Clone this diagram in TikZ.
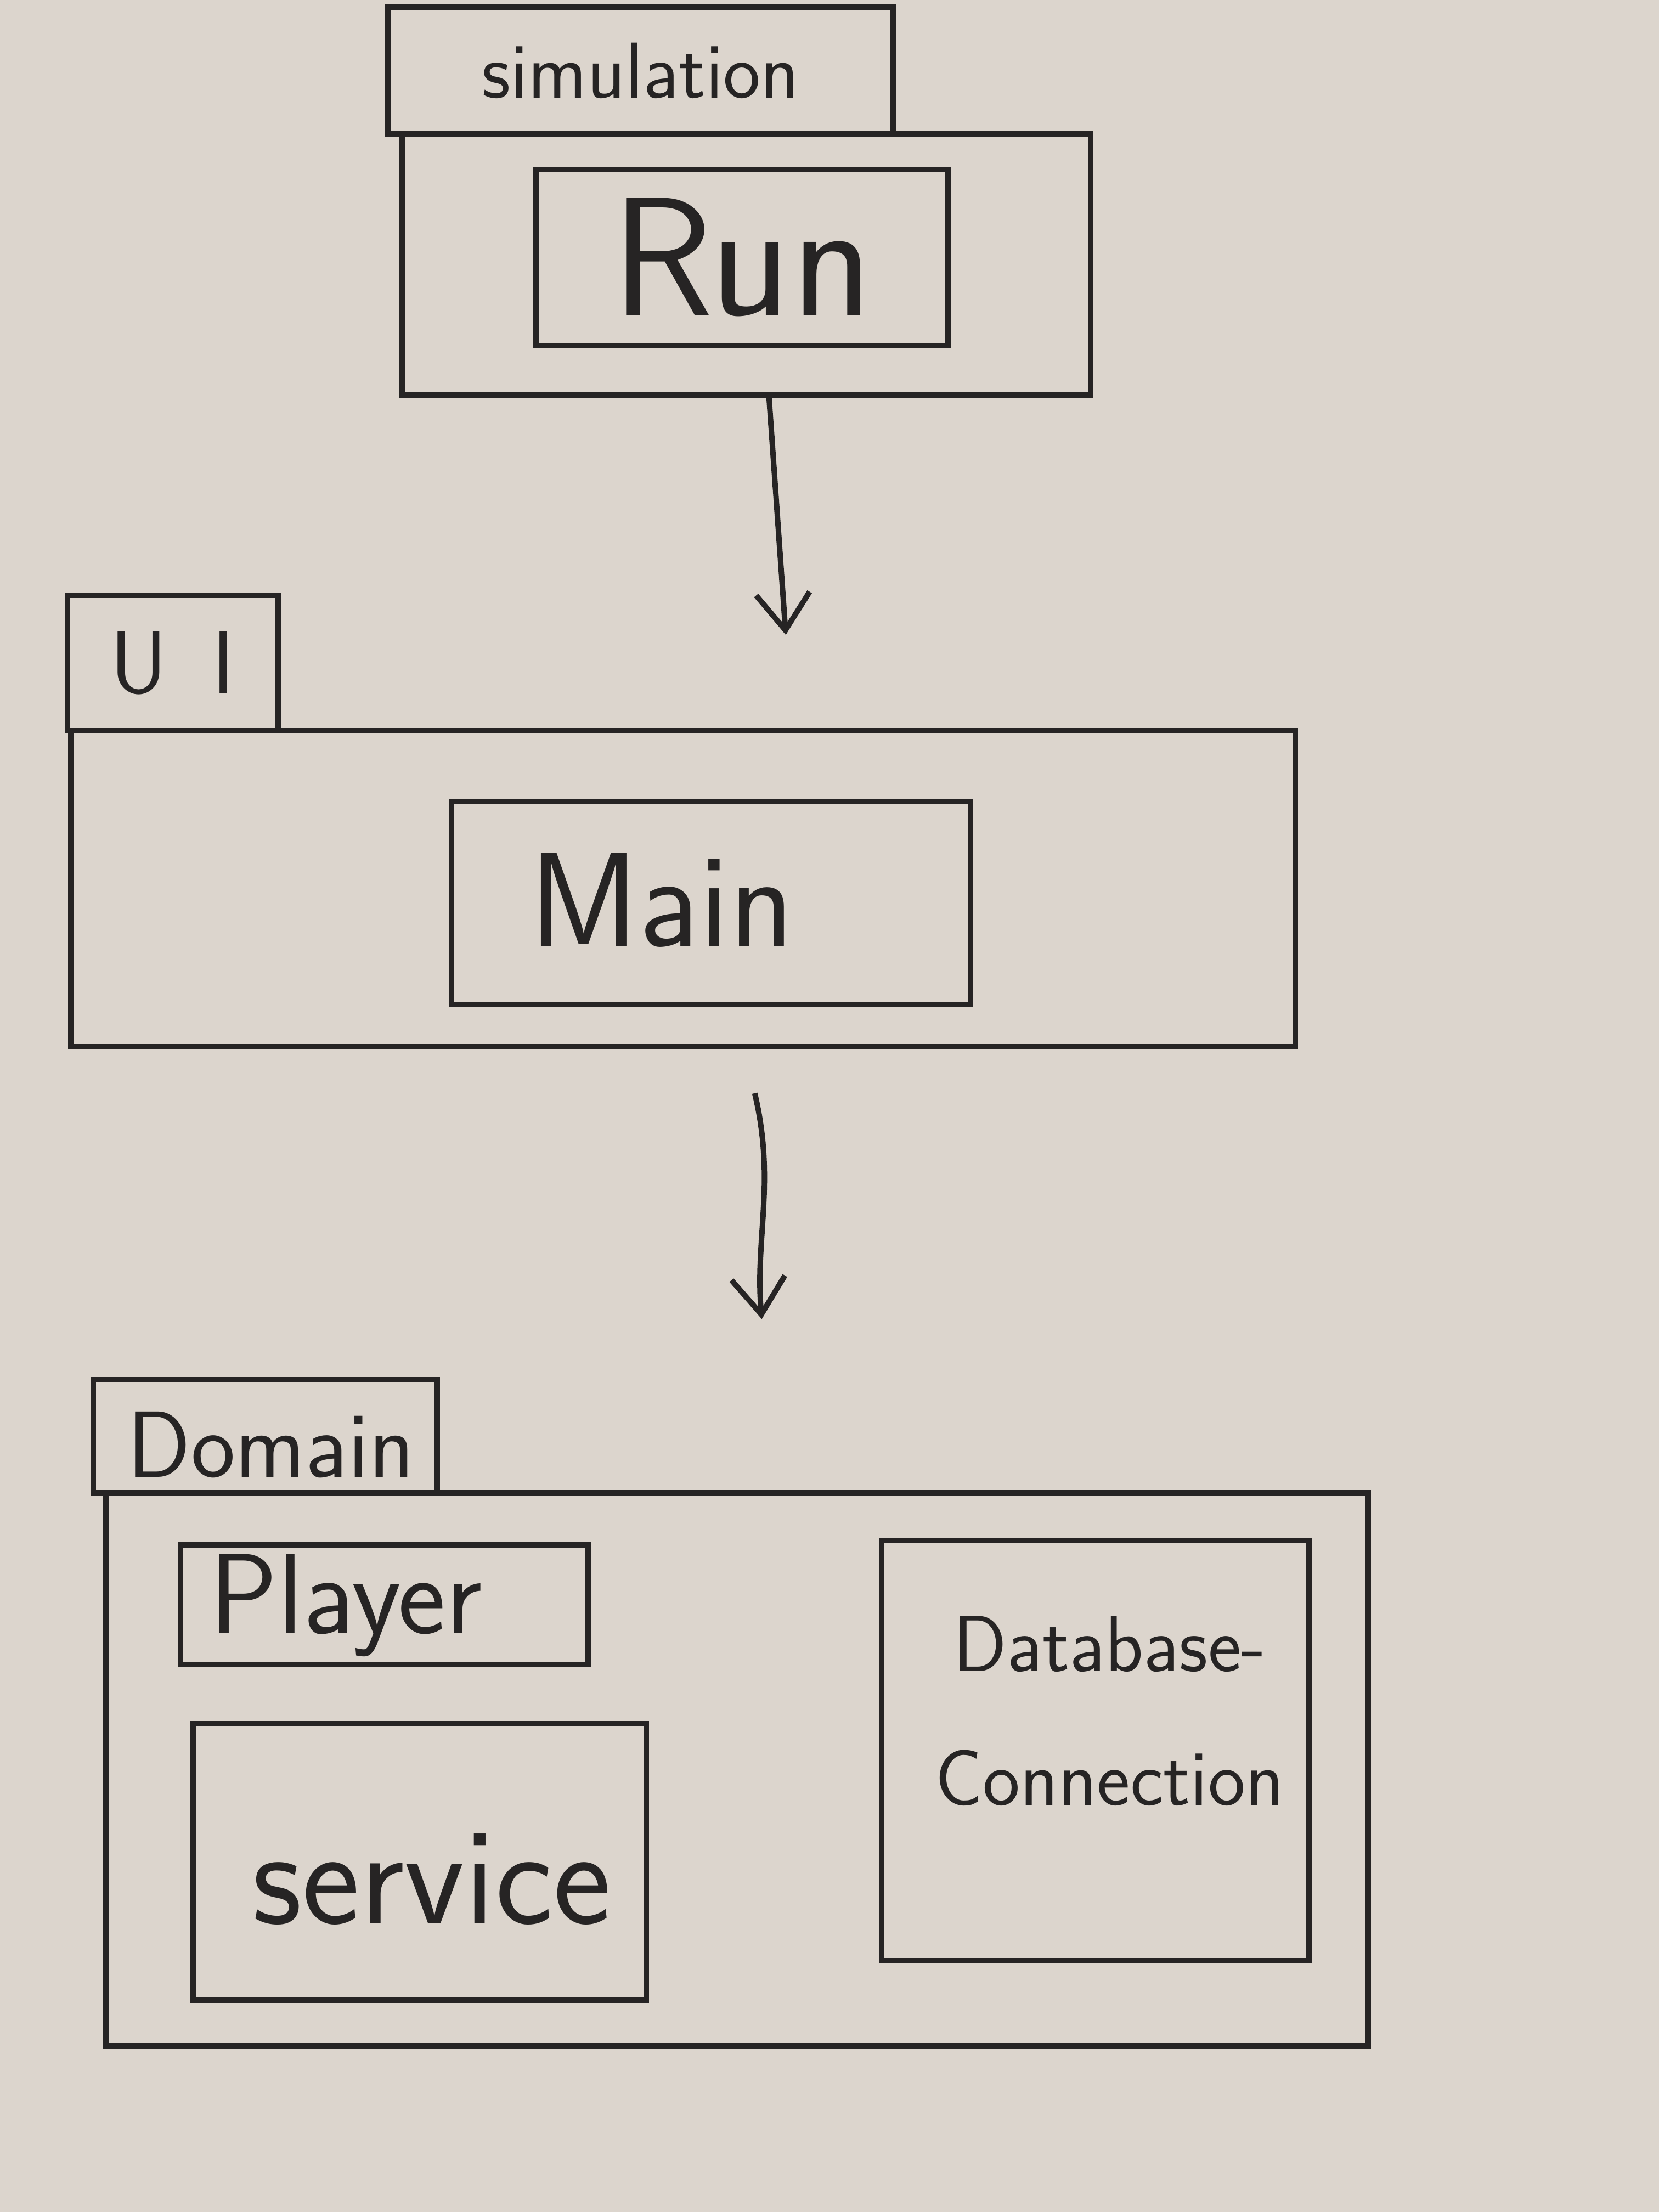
\documentclass[tikz,border=0pt]{standalone}
\usepackage{tikz}
\usetikzlibrary{arrows.meta}
\definecolor{paper}{RGB}{220,213,205}
\definecolor{ink}{RGB}{38,36,36}

\begin{document}
\begin{tikzpicture}[
  pkgtab/.style={draw=ink, line width=1.1pt, outer sep=0pt, inner sep=0pt, text=ink},
  pkgbody/.style={draw=ink, line width=1.1pt, outer sep=0pt},
  classbox/.style={draw=ink, line width=1.1pt, outer sep=0pt, inner sep=0pt, text=ink},
  boxlabel/.style={text=ink, inner sep=0pt, align=center},
  pkgarrow/.style={ink, line width=1.1pt, -{Straight Barb[length=2.6mm,width=3.8mm]}}
]
  % Paper
  \fill[paper] (0,0) rectangle (11.76,15.68);
  \useasboundingbox (0,0) rectangle (11.76,15.68);

  % Simulation package
  \node[pkgtab, minimum width=3.58cm, minimum height=0.9cm, font=\sffamily\fontsize{16}{18}\selectfont] (simtab) at (4.54,15.18) {simulation};
  \node[pkgbody, minimum width=4.88cm, minimum height=1.85cm] (simbody) at (5.29,13.805) {};
  \node[classbox, minimum width=2.92cm, minimum height=1.25cm, font=\sffamily\fontsize{34}{38}\selectfont] (run) at (5.26,13.855) {Run};

  % UI package
  \node[pkgtab, minimum width=1.49cm, minimum height=0.96cm, font=\sffamily\fontsize{18}{20}\selectfont] (uitab) at (1.225,10.98) {U\hspace{0.5em}I};
  \node[pkgbody, minimum width=8.68cm, minimum height=2.24cm] (uibody) at (4.84,9.38) {};
  \node[classbox, minimum width=3.68cm, minimum height=1.44cm] (main) at (5.04,9.28) {};
  \node[boxlabel, font=\sffamily\fontsize{27}{30}\selectfont] (mainlabel) at (4.69,9.30) {Main};

  % Domain package
  \node[pkgtab, minimum width=2.44cm, minimum height=0.8cm] (domtab) at (1.88,5.50) {};
  \node[boxlabel, font=\sffamily\fontsize{19}{22}\selectfont] (domlabel) at (1.92,5.44) {Domain};
  \node[pkgbody, minimum width=8.95cm, minimum height=3.92cm] (dombody) at (5.225,3.14) {};
  \node[classbox, minimum width=2.89cm, minimum height=0.85cm] (player) at (2.725,4.305) {};
  \node[boxlabel, font=\sffamily\fontsize{23}{25}\selectfont] (playerlabel) at (2.45,4.30) {Player};
  \node[classbox, minimum width=3.21cm, minimum height=1.96cm] (service) at (2.975,2.48) {};
  \node[boxlabel, font=\sffamily\fontsize{28}{30}\selectfont] (servicelabel) at (3.06,2.36) {service};
  \node[classbox, minimum width=3.03cm, minimum height=2.98cm] (dbconn) at (7.765,3.27) {};
  \node[boxlabel, font=\sffamily\fontsize{16}{19}\selectfont] (dblabel) at ([xshift=1mm,yshift=2.8mm]dbconn.center) {Database-\\[8pt]Connection};

  % Dependencies
  \coordinate (uitip) at (5.57,11.18);
  \draw[pkgarrow] ([xshift=1.6mm]simbody.south) -- (uitip);
  \coordinate (domstart) at (5.35,7.93);
  \coordinate (domtip) at (5.40,6.33);
  \draw[pkgarrow] (domstart) .. controls (5.50,7.3) and (5.35,6.9) .. (domtip);
\end{tikzpicture}
\end{document}
